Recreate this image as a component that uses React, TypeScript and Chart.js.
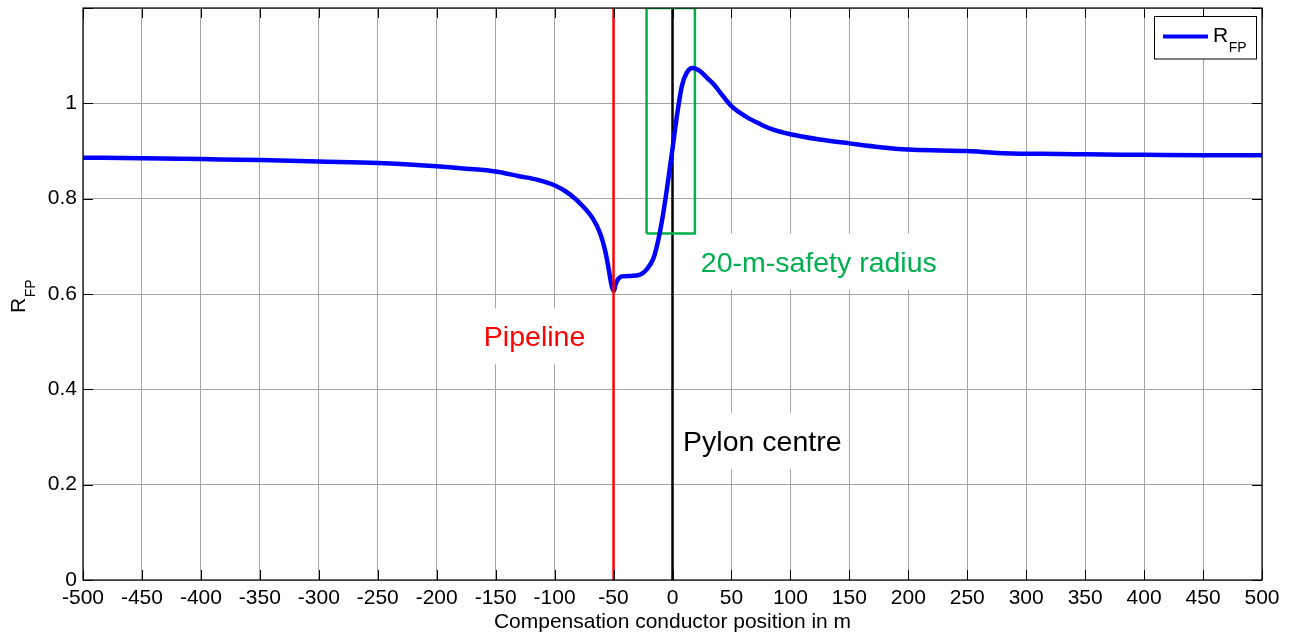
import { useEffect, useRef } from "react";
import { Chart, registerables } from "chart.js";

Chart.register(...registerables);

// Compensation conductor position (m) and the resulting reduction factor R_FP
const positions = [
  -500, -450, -400, -350, -300, -250, -200, -175, -150, -130, -115, -100, -87, -76,
  -67, -61.5, -57.3, -54.5, -52.4, -51, -49.6, -48.5, -47, -45, -43, -35, -28, -22,
  -16, -12, -8, -4, 0, 4, 8, 12, 17, 23, 30, 35, 40, 50, 63, 74, 83, 100, 125, 150,
  176, 200, 227, 250, 275, 313, 350, 400, 450, 500,
];
const ratioValues = [
  0.886, 0.885, 0.883, 0.881, 0.878, 0.875, 0.868, 0.863, 0.857, 0.847, 0.84, 0.828,
  0.809, 0.784, 0.756, 0.728, 0.693, 0.658, 0.627, 0.612, 0.607, 0.618, 0.628, 0.634,
  0.637, 0.638, 0.64, 0.651, 0.676, 0.714, 0.767, 0.833, 0.905, 0.978, 1.037, 1.064,
  1.074, 1.068, 1.052, 1.04, 1.024, 0.994, 0.971, 0.957, 0.947, 0.935, 0.924, 0.916,
  0.908, 0.903, 0.901, 0.9, 0.896, 0.894, 0.893, 0.892, 0.891, 0.891,
];

// Reference lines and the safety zone around the pylon
const pipelinePosition = -50;
const pylonPosition = 0;
const safetyZoneX = [-22, -22, 19, 19, -22];
const safetyZoneY = [0.727, 1.2, 1.2, 0.727, 0.727];

// Axis ticks
const yTickValues = [0, 0.2, 0.4, 0.6, 0.8, 1];
const yTickLabels = ["0", "0.2", "0.4", "0.6", "0.8", "1"];

const FONT = '"Liberation Sans", Arial, Helvetica, sans-serif';

type Note = { text: string; x: number; y: number; align: CanvasTextAlign; color: string };
const notes: Note[] = [
  { text: "Pipeline", x: -117, y: 0.49, align: "center", color: "#ff0000" },
  { text: "20-m-safety radius", x: 24, y: 0.647, align: "left", color: "#00b050" },
  { text: "Pylon centre", x: 9, y: 0.271, align: "left", color: "#000000" },
];

const NOTE_FONT = `28.5px ${FONT}`;

function noteBox(ctx: CanvasRenderingContext2D, chart: any, n: Note) {
  const xs = chart.scales.x;
  const ys = chart.scales.y;
  ctx.font = NOTE_FONT;
  const w = ctx.measureText(n.text).width;
  const px = xs.getPixelForValue(n.x);
  const py = ys.getPixelForValue(n.y);
  const left = n.align === "center" ? px - w / 2 : px;
  return { left, width: w, px, py };
}

const decorations = {
  id: "decorations",
  beforeDatasetsDraw(chart: any) {
    const ctx: CanvasRenderingContext2D = chart.ctx;
    ctx.save();
    ctx.fillStyle = "#ffffff";
    for (const n of notes) {
      const b = noteBox(ctx, chart, n);
      ctx.fillRect(b.left - 4, b.py - 38, b.width + 8, 56);
    }
    ctx.restore();
  },
  afterDatasetsDraw(chart: any) {
    const ctx: CanvasRenderingContext2D = chart.ctx;
    const { left, right, top, bottom } = chart.chartArea;
    const xs = chart.scales.x;
    const ys = chart.scales.y;
    ctx.save();

    // annotation texts
    for (const n of notes) {
      const b = noteBox(ctx, chart, n);
      ctx.font = NOTE_FONT;
      ctx.fillStyle = n.color;
      ctx.textAlign = "left";
      ctx.textBaseline = "alphabetic";
      ctx.fillText(n.text, b.left, b.py);
    }

    // frame
    ctx.strokeStyle = "#000000";
    ctx.lineWidth = 1.2;
    ctx.strokeRect(left, top, right - left, bottom - top);

    // inward tick marks on all four sides
    const tl = 10;
    ctx.lineWidth = 1;
    ctx.beginPath();
    for (const t of xs.ticks) {
      const p = Math.round(xs.getPixelForValue(t.value)) + 0.5;
      ctx.moveTo(p, bottom);
      ctx.lineTo(p, bottom - tl);
      ctx.moveTo(p, top);
      ctx.lineTo(p, top + tl);
    }
    for (const t of ys.ticks) {
      const p = Math.round(ys.getPixelForValue(t.value)) + 0.5;
      ctx.moveTo(left, p);
      ctx.lineTo(left + tl, p);
      ctx.moveTo(right, p);
      ctx.lineTo(right - tl, p);
    }
    ctx.stroke();

    // x axis title
    ctx.fillStyle = "#000000";
    ctx.font = `21px ${FONT}`;
    ctx.textAlign = "center";
    ctx.textBaseline = "alphabetic";
    ctx.fillText("Compensation conductor position in m", (left + right) / 2, 628);

    // y axis title R_FP (rotated)
    ctx.save();
    ctx.translate(25, 313);
    ctx.rotate(-Math.PI / 2);
    ctx.textAlign = "left";
    ctx.font = `21px ${FONT}`;
    ctx.fillText("R", 0, 0);
    const rw = ctx.measureText("R").width;
    ctx.font = `14px ${FONT}`;
    ctx.fillText("FP", rw + 0.5, 10);
    ctx.restore();

    // legend
    const lx = 1154.5;
    const ly = 16.5;
    const lw = 102;
    const lh = 42.5;
    ctx.fillStyle = "#ffffff";
    ctx.fillRect(lx, ly, lw, lh);
    ctx.strokeStyle = "#000000";
    ctx.lineWidth = 1;
    ctx.strokeRect(lx, ly, lw, lh);
    ctx.strokeStyle = "#0000ff";
    ctx.lineWidth = 4;
    ctx.beginPath();
    ctx.moveTo(1163, 36.5);
    ctx.lineTo(1208, 36.5);
    ctx.stroke();
    ctx.fillStyle = "#000000";
    ctx.textAlign = "left";
    ctx.font = `21px ${FONT}`;
    ctx.fillText("R", 1213, 42);
    const rw2 = ctx.measureText("R").width;
    ctx.font = `14px ${FONT}`;
    ctx.fillText("FP", 1213 + rw2 + 0.5, 52);

    ctx.restore();
  },
};

export default function App() {
  const canvasRef = useRef<HTMLCanvasElement | null>(null);

  useEffect(() => {
    document.body.style.margin = "0";
    const canvas = canvasRef.current;
    if (!canvas) return;

    const curve = positions.map((x, i) => ({ x, y: ratioValues[i] }));
    const safetyZone = safetyZoneX.map((x, i) => ({ x, y: safetyZoneY[i] }));

    const chart = new Chart(canvas, {
      type: "line",
      data: {
        datasets: [
          {
            label: "Pylon centre",
            data: [
              { x: pylonPosition, y: 0 },
              { x: pylonPosition, y: 1.2 },
            ],
            borderColor: "#000000",
            borderWidth: 2.5,
            pointRadius: 0,
            order: 4,
          },
          {
            label: "20-m-safety radius",
            data: safetyZone,
            borderColor: "#00b050",
            borderWidth: 2.5,
            pointRadius: 0,
            order: 3,
          },
          {
            label: "R_FP",
            data: curve,
            borderColor: "#0000ff",
            borderWidth: 4.5,
            pointRadius: 0,
            cubicInterpolationMode: "monotone",
            borderJoinStyle: "round",
            order: 2,
          },
          {
            label: "Pipeline",
            data: [
              { x: pipelinePosition, y: 0 },
              { x: pipelinePosition, y: 1.2 },
            ],
            borderColor: "#ff0000",
            borderWidth: 2.5,
            pointRadius: 0,
            order: 1,
          },
        ],
      },
      options: {
        animation: false,
        responsive: true,
        maintainAspectRatio: false,
        events: [],
        layout: { padding: { left: 0, right: 35, top: 8, bottom: 0 } },
        plugins: {
          legend: { display: false },
          tooltip: { enabled: false },
        },
        scales: {
          x: {
            type: "linear",
            min: -500,
            max: 500,
            border: { display: false },
            grid: { color: "#a3a3a3", lineWidth: 1, drawTicks: false },
            ticks: {
              stepSize: 50,
              autoSkip: false,
              maxRotation: 0,
              padding: 6,
              color: "#000000",
              font: { family: FONT, size: 21 },
            },
            afterFit(scale: any) {
              scale.height = 55;
              scale.paddingLeft = 0;
              scale.paddingRight = 0;
            },
          },
          y: {
            type: "linear",
            min: 0,
            max: 1.2,
            border: { display: false },
            grid: { color: "#a3a3a3", lineWidth: 1, drawTicks: false },
            ticks: {
              stepSize: 0.2,
              padding: 6,
              color: "#000000",
              font: { family: FONT, size: 21 },
              callback: (value: any) => {
                const idx = yTickValues.findIndex((v) => Math.abs(v - Number(value)) < 1e-6);
                return idx >= 0 ? yTickLabels[idx] : "";
              },
            },
            afterFit(scale: any) {
              scale.width = 83;
              scale.paddingTop = 0;
              scale.paddingBottom = 0;
            },
          },
        },
      },
      plugins: [decorations],
    });

    return () => chart.destroy();
  }, []);

  return (
    <div style={{ position: "absolute", left: 0, top: 0, width: 1297, height: 635 }}>
      <canvas ref={canvasRef} />
    </div>
  );
}
